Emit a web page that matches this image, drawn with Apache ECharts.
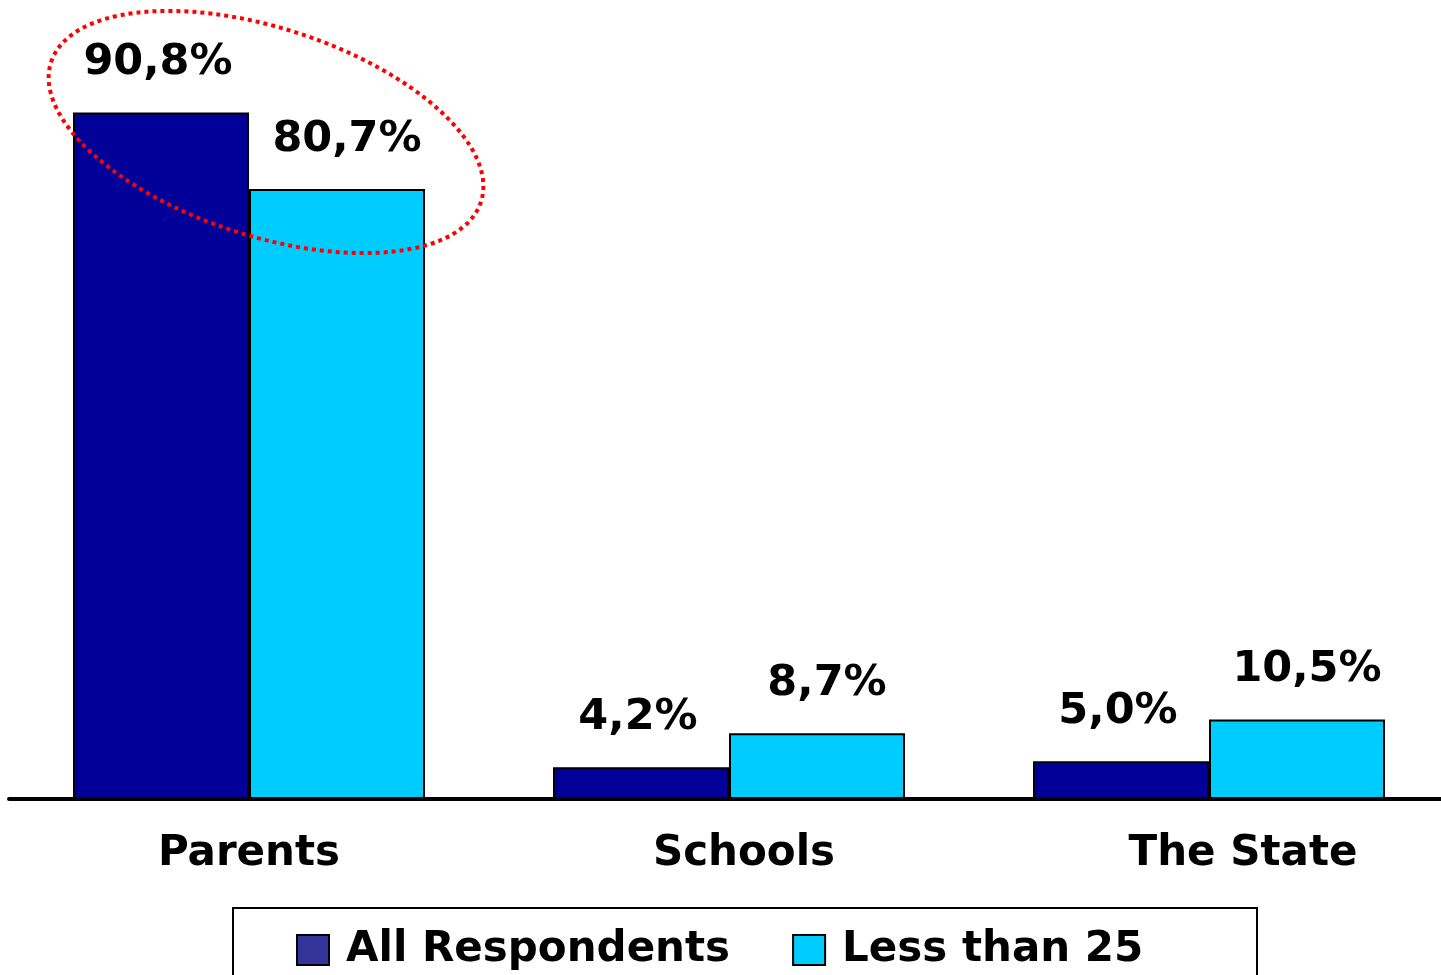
<!DOCTYPE html>
<html>
<head>
<meta charset="utf-8">
<script src="https://cdn.jsdelivr.net/npm/echarts@6/dist/echarts.min.js"></script>
<style>
html,body{margin:0;padding:0;background:#fff;}
#chart{width:1441px;height:975px;}
</style>
</head>
<body>
<div id="chart"></div>
<script>
const categories = ['Parents', 'Schools', 'The State'];
const allRespondents = [90.8, 4.2, 5.0];
const lessThan25 = [80.7, 8.7, 10.5];
const seriesNames = ['All Respondents', 'Less than 25'];

const FONT = '"DejaVu Sans", Verdana, sans-serif';
const fmt = p => p.value.toFixed(1).replace('.', ',') + '%';
// category labels in the original sit slightly right of the bar pairs
const labelShift = [0, 30, 68];

const chart = echarts.init(document.getElementById('chart'), null, {renderer: 'canvas'});
const labelStyle = {
  show: true, position: 'top', distance: 28, formatter: fmt,
  fontFamily: FONT, fontWeight: 'bold', fontSize: 43, color: '#000'
};
chart.setOption({
  animation: false,
  backgroundColor: '#fff',
  grid: {left: 9, top: 43, width: 1440, bottom: 176, outerBoundsMode: 'none', containLabel: false},
  xAxis: {
    type: 'category',
    data: categories.map((c, i) => ({value: c, textStyle: {padding: [0, 0, 0, labelShift[i]]}})),
    axisLine: {lineStyle: {color: '#000', width: 4}},
    axisTick: {show: false},
    axisLabel: {fontFamily: FONT, fontWeight: 'bold', fontSize: 42, color: '#000', margin: 34}
  },
  yAxis: {type: 'value', min: 0, max: 100, show: false, splitLine: {show: false}},
  legend: {
    left: 291, top: 924,
    itemWidth: 32, itemHeight: 30, itemGap: 62,
    textStyle: {fontFamily: FONT, fontWeight: 'bold', fontSize: 42, color: '#000', padding: [0, 0, 0, 12]},
    data: [
      {name: seriesNames[0], icon: 'rect', itemStyle: {color: '#333399', borderColor: '#000', borderWidth: 2}},
      {name: seriesNames[1], icon: 'rect', itemStyle: {color: '#00CCFF', borderColor: '#000', borderWidth: 2}}
    ]
  },
  series: [
    {
      name: seriesNames[0], type: 'bar', data: allRespondents,
      barWidth: 176, barGap: '0%',
      itemStyle: {color: '#000099', borderColor: '#000', borderWidth: 2},
      label: Object.assign({}, labelStyle, {offset: [-3, 0]})
    },
    {
      name: seriesNames[1], type: 'bar', data: lessThan25,
      barWidth: 176, barGap: '0%',
      itemStyle: {color: '#00CCFF', borderColor: '#000', borderWidth: 2},
      label: Object.assign({}, labelStyle, {offset: [10, 0]})
    }
  ],
  graphic: [
    {
      type: 'ellipse', x: 266, y: 132, rotation: -18 * Math.PI / 180, z: 100,
      shape: {cx: 0, cy: 0, rx: 226, ry: 104},
      style: {fill: 'none', stroke: '#FF0000', lineWidth: 4, lineDash: [4, 4]}
    },
    {
      type: 'rect', z: 100,
      shape: {x: 233, y: 908, width: 1024, height: 100},
      style: {fill: 'none', stroke: '#000', lineWidth: 2}
    }
  ]
});
</script>
</body>
</html>
